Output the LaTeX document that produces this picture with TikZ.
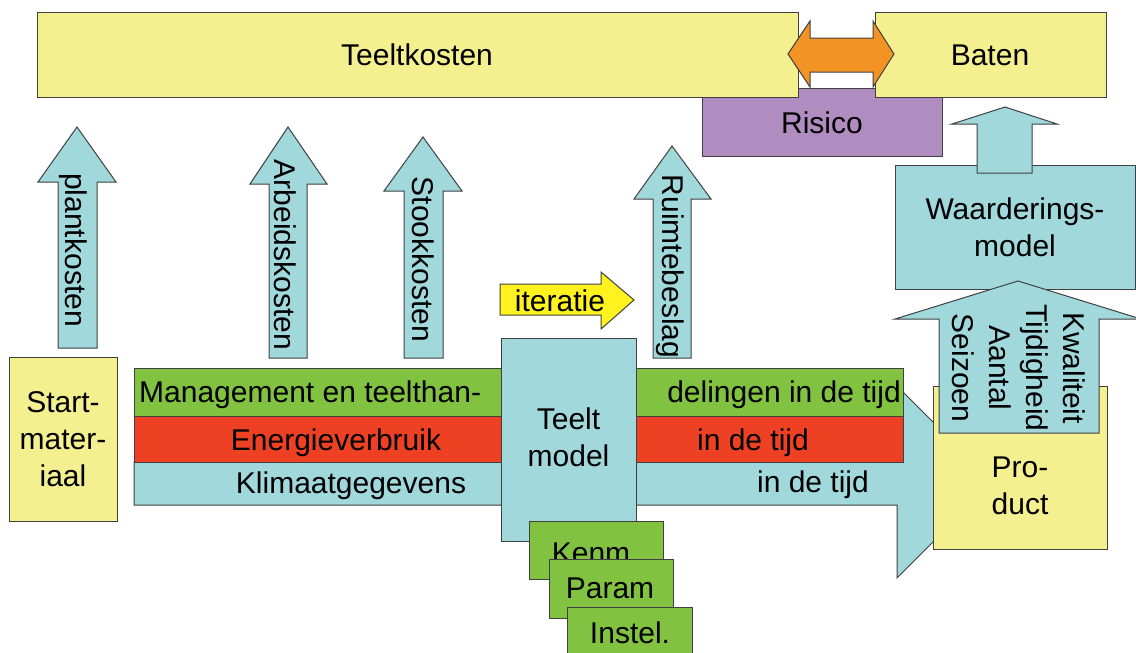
\documentclass[tikz,border=0pt]{standalone}
\usepackage{fontspec}
\setmainfont{Liberation Sans}
\definecolor{ylw}{HTML}{F5F08F}
\definecolor{lblue}{HTML}{A0D8DC}
\definecolor{grn}{HTML}{82C241}
\definecolor{rd}{HTML}{EE4124}
\definecolor{prp}{HTML}{B08CC0}
\definecolor{orng}{HTML}{F39323}
\definecolor{ity}{HTML}{FFF21E}
\begin{document}
\begin{tikzpicture}[x=1pt,y=-1pt,
  ln/.style={draw=black!75,line width=1pt,line join=miter},
  txt/.style={font=\fontsize{30}{37}\selectfont,inner sep=0pt,text=black},
  vtxt/.style={txt,rotate=-90,anchor=center},
  mtxt/.style={txt,align=center,anchor=center}]
\useasboundingbox (0,0) rectangle (1136,653);
% top row
\filldraw[ln,fill=prp] (702,88) rectangle (942,156);
\filldraw[ln,fill=ylw] (37,12) rectangle (798,97);
\filldraw[ln,fill=ylw] (875,12) rectangle (1106,97);
\filldraw[ln,fill=orng] (788,54)--(810,21)--(810,38)--(873,38)--(873,21)--(894,54)--(873,87)--(873,72)--(810,72)--(810,87)--cycle;
\node[txt,anchor=base] (teeltkosten) at (417,65) {Teeltkosten};
\node[txt,anchor=base] (baten) at (990,65) {Baten};
\node[txt,anchor=base] (risico) at (822,133) {Risico};
% up arrows
\filldraw[ln,fill=lblue] (58,348)--(58,182)--(38,182)--(77,127)--(116,182)--(97,182)--(97,348)--cycle;
\filldraw[ln,fill=lblue] (269,358)--(269,184)--(250,184)--(288,127)--(327,184)--(307,184)--(307,358)--cycle;
\filldraw[ln,fill=lblue] (404,358)--(404,191)--(384,191)--(423,137)--(462,191)--(443,191)--(443,358)--cycle;
\filldraw[ln,fill=lblue] (653,358)--(653,199)--(634,199)--(672,146)--(711,199)--(691,199)--(691,358)--cycle;
\node[vtxt] (plant) at (73,250) {plantkosten};
\node[vtxt] (arbeid) at (285.5,255) {Arbeidskosten};
\node[vtxt] (stook) at (423,259.5) {Stookkosten};
\node[vtxt] (ruimte) at (670.5,266.5) {Ruimtebeslag};
% start materiaal
\filldraw[ln,fill=ylw] (9,357) rectangle (117,521);
\node[mtxt] (start) at (63,439) {Start-\\mater-\\iaal};
% big blue arrow and bands
\filldraw[ln,fill=lblue] (134,462)--(897,462)--(897,386)--(993,482)--(897,578)--(897,505)--(134,505)--cycle;
\filldraw[ln,fill=grn] (134,368) rectangle (903,416);
\filldraw[ln,fill=rd] (134,416) rectangle (903,462);
\node[txt,anchor=base west] (mgmt) at (139,402) {Management en teelthan-};
\node[txt,anchor=base east] (delingen) at (901,402) {delingen in de tijd};
\node[txt,anchor=base] (energie) at (336,450) {Energieverbruik};
\node[txt,anchor=base] (tijd1) at (753,450) {in de tijd};
\node[txt,anchor=base] (klimaat) at (351,493) {Klimaatgegevens};
\node[txt,anchor=base] (tijd2) at (813,492) {in de tijd};
% product side
\filldraw[ln,fill=ylw] (933,386) rectangle (1107,549);
\node[mtxt] (product) at (1020,485.5) {Pro-\\duct};
\filldraw[ln,fill=lblue] (895,165) rectangle (1135,289);
\node[mtxt] (waard) at (1015,227.5) {Waarderings-\\model};
\filldraw[ln,fill=lblue] (977,173)--(977,124)--(952,124)--(1005,107)--(1057,124)--(1032,124)--(1032,173)--cycle;
\filldraw[ln,fill=lblue] (939,433)--(939,319)--(895,319)--(1018,281)--(1141,319)--(1099,319)--(1099,433)--cycle;
\node[txt,align=center,rotate=-90,anchor=center] (kwal) at (1019,368) {Kwaliteit\\Tijdigheid\\Aantal\\Seizoen};
% teelt model
\filldraw[ln,fill=lblue] (501,338) rectangle (636,541);
\node[mtxt] (teelt) at (568.5,437.5) {Teelt\\model};
\filldraw[ln,fill=grn] (529,521) rectangle (663,579);
\node[txt,anchor=base] (kenm) at (591,563) {Kenm};
\filldraw[ln,fill=grn] (549,559) rectangle (673,618);
\node[txt,anchor=base] (param) at (610,598) {Param};
\filldraw[ln,fill=grn] (567,607) rectangle (692,670);
\node[txt,anchor=base] (instel) at (630,643) {Instel.};
% iteratie
\filldraw[ln,fill=ity] (500,284)--(601,284)--(601,272)--(634,300)--(601,329)--(601,315)--(500,315)--cycle;
\node[txt,anchor=base] (iter) at (560,311) {iteratie};
\end{tikzpicture}
\end{document}
